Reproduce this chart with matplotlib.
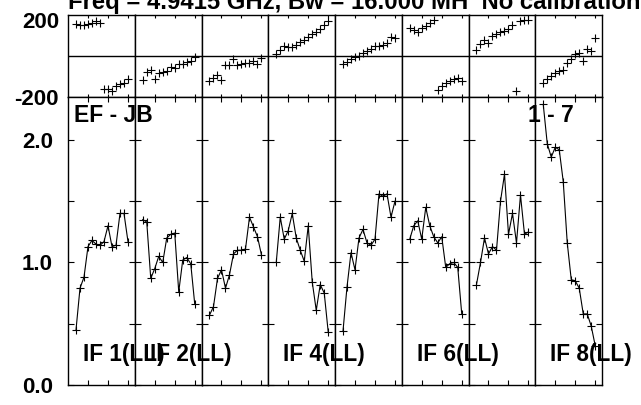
import numpy as np
import matplotlib.pyplot as plt
from matplotlib.transforms import ScaledTranslation

plt.rcParams['font.family'] = ['Liberation Sans', 'DejaVu Sans']
plt.rcParams['font.weight'] = 'bold'
plt.rcParams['font.size'] = 16

# channels shown in each IF
chans = np.arange(2, 16)

# amplitude per IF (14 channels each)
amp_if1 = [0.45, 0.79, 0.88, 1.13, 1.18, 1.15, 1.14, 1.17, 1.30, 1.13, 1.14, 1.40, 1.40, 1.17]
amp_if2 = [1.35, 1.33, 0.87, 0.95, 1.05, 1.00, 1.20, 1.23, 1.24, 0.76, 1.02, 1.04, 0.99, 0.66]
amp_if3 = [0.57, 0.64, 0.87, 0.94, 0.79, 0.90, 1.07, 1.10, 1.10, 1.11, 1.37, 1.29, 1.21, 1.06]
amp_if4 = [1.00, 1.37, 1.19, 1.26, 1.40, 1.20, 1.10, 1.01, 1.30, 0.84, 0.61, 0.82, 0.75, 0.43]
amp_if5 = [0.44, 0.80, 1.08, 0.94, 1.20, 1.27, 1.16, 1.14, 1.19, 1.56, 1.54, 1.56, 1.37, 1.50]
amp_if6 = [1.19, 1.30, 1.34, 1.19, 1.45, 1.30, 1.21, 1.16, 1.21, 0.96, 0.99, 1.00, 0.96, 0.58]
amp_if7 = [0.82, 1.00, 1.20, 1.07, 1.13, 1.10, 1.50, 1.72, 1.23, 1.40, 1.16, 1.55, 1.23, 1.25]
amp_if8 = [2.29, 1.97, 1.86, 1.94, 1.92, 1.66, 1.16, 0.86, 0.85, 0.79, 0.58, 0.58, 0.48, 0.32]

# phase per IF (degrees)
ph_if1 = [154, 150, 152, 155, 160, 170, 160, -160, -160, -171, -150, -139, -131, -114]
ph_if2 = [-118, -80, -70, -113, -82, -77, -74, -54, -61, -41, -38, -31, -25, -8]
ph_if3 = [-121, -108, -92, -116, -47, -45, -17, -45, -41, -37, -34, -26, -40, -12]
ph_if4 = [10, 31, 50, 44, 45, 55, 67, 78, 94, 107, 115, 133, 152, 169]
ph_if5 = [-41, -29, -13, -7, -3, 13, 24, 33, 46, 49, 52, 65, 90, 85]
ph_if6 = [134, 127, 119, 136, 147, 160, 176, -167, -150, -131, -124, -111, -106, -121]
ph_if7 = [28, 57, 78, 65, 95, 109, 118, 122, 131, 150, -171, 171, 176, 176]
ph_if8 = [-134, -114, -101, -85, -73, -69, -33, -16, 8, 13, -25, 33, 24, 85]

amps = [amp_if1, amp_if2, amp_if3, amp_if4, amp_if5, amp_if6, amp_if7, amp_if8]
phases = [ph_if1, ph_if2, ph_if3, ph_if4, ph_if5, ph_if6, ph_if7, ph_if8]
if_labels = ['IF 1(LL)', 'IF 2(LL)', None, 'IF 4(LL)', None, 'IF 6(LL)', None, 'IF 8(LL)']

amp_ticks = [0.0, 0.5, 1.0, 1.5, 2.0]
amp_ticklabels = ['0.0', '', '1.0', '', '2.0']

W, H = 641, 405
fig = plt.figure(figsize=(W / 100, H / 100), dpi=100)

x_left, pw = 68, 66.75
y_top, y_mid, y_bot = 15, 96.7, 385

for i in range(8):
    x0 = x_left + i * pw
    axp = fig.add_axes([x0 / W, (H - y_mid) / H, pw / W, (y_mid - y_top) / H])
    axa = fig.add_axes([x0 / W, (H - y_bot) / H, pw / W, (y_bot - y_mid) / H])

    # phase panel
    axp.plot(chans, phases[i], ls='none', marker='+', color='black', ms=6, mew=0.8)
    axp.axhline(0, color='black', lw=1)
    axp.set_xlim(0, 16.69)
    axp.set_ylim(-200, 200)
    axp.set_xticks([5, 10, 15])
    axp.set_xticklabels([])
    axp.tick_params(axis='x', direction='in', top=True, bottom=True, length=2.5, width=0.8)
    if i == 0:
        axp.set_yticks([-200, 200])
        axp.set_yticklabels(['-200', '200'])
        axp.tick_params(axis='y', length=0, pad=6.5)
        lab = axp.get_yticklabels()[1]
        lab.set_transform(lab.get_transform() + ScaledTranslation(0, -0.05, fig.dpi_scale_trans))
    else:
        axp.set_yticks([])

    # amplitude panel
    axa.plot(chans, amps[i], color='black', lw=0.8, marker='+', ms=6, mew=0.8)
    axa.set_xlim(0, 16.69)
    axa.set_ylim(0, 2.353)
    axa.set_xticks([5, 10, 15])
    axa.set_xticklabels([])
    axa.set_yticks(amp_ticks)
    if i == 0:
        axa.set_yticklabels(amp_ticklabels)
    else:
        axa.set_yticklabels([])
    axa.tick_params(axis='x', direction='in', top=True, bottom=True, length=3.5, width=0.8)
    axa.tick_params(axis='y', direction='in', left=True, right=True, length=4, width=0.8, pad=10.8)

    for ax in (axp, axa):
        for sp in ax.spines.values():
            sp.set_linewidth(1)
            sp.set_color('black')

    if if_labels[i]:
        fig.text((x0 + 15) / W, (H - 355) / H, if_labels[i], ha='left', va='center', size=16.3)

fig.text(74 / W, (H - 116) / H, 'EF - JB', ha='left', va='center', size=16.5)
fig.text(528 / W, (H - 116) / H, '1 - 7', ha='left', va='center', size=16.5)
fig.text(68 / W, (H - 9.5) / H, 'Freq = 4.9415 GHz, Bw = 16.000 MH  No calibration',
         ha='left', va='baseline', size=17.2)

fig.savefig('out.png', dpi=100)
